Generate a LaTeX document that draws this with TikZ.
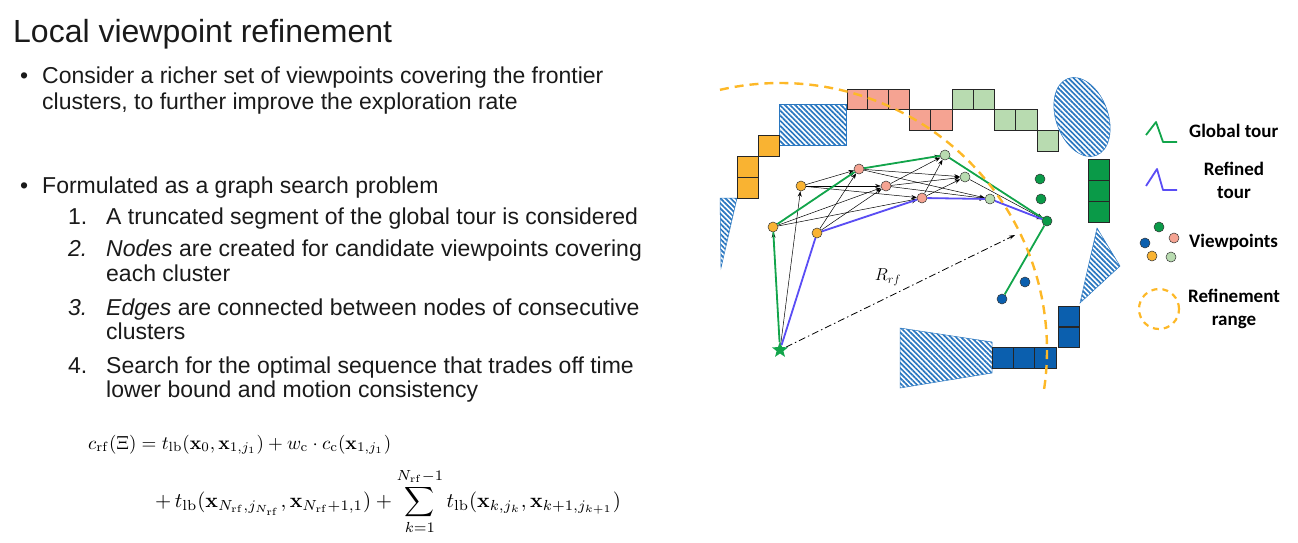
\documentclass[tikz,border=0pt]{standalone}
\usepackage{amsmath}
\usepackage{graphicx}
\usepackage[no-math]{fontspec}
\setmainfont{Liberation Sans}
\newfontfamily\legfont{Carlito}
\usetikzlibrary{shapes.geometric,patterns.meta,arrows.meta,calc}
\definecolor{vpOrange}{HTML}{F9B332}
\definecolor{vpSalmon}{HTML}{F5A392}
\definecolor{vpLgreen}{HTML}{B8DBB0}
\definecolor{vpDgreen}{HTML}{0A9A48}
\definecolor{vpBlue}{HTML}{0B5FAE}
\definecolor{hatchBlue}{HTML}{2A77C0}
\definecolor{tourGreen}{HTML}{12A54B}
\definecolor{tourBlue}{HTML}{5A4DF5}
\definecolor{rangeOrange}{HTML}{FDB827}
\definecolor{txtGray}{HTML}{1A1A1A}
\begin{document}
\begin{tikzpicture}[x=1pt,y=-1pt,
  cell/.style={draw=black!85, line width=0.9pt},
  hatch/.style={draw=hatchBlue, line width=0.5pt, pattern={Lines[angle=-45,distance=3.6pt,line width=1.7pt]}, pattern color=hatchBlue},
  vp/.style={circle, draw=black!80, line width=0.5pt, inner sep=0pt, minimum size=10pt},
  edgearrow/.style={-{Stealth[length=5.5pt,width=4pt]}, line width=0.5pt, black},
  gtour/.style={tourGreen, line width=1.8pt, line join=round},
  rtour/.style={tourBlue, line width=1.8pt, line join=round},
  rangeline/.style={rangeOrange, line width=2.4pt, dash pattern=on 9pt off 6pt},
  bodytext/.style={anchor=base west, inner sep=0pt, font=\fontsize{23}{28}\selectfont, text=txtGray},
  mathtext/.style={anchor=base west, inner sep=0pt, font=\fontsize{10}{12}\selectfont},
  legtext/.style={inner sep=0pt, font=\legfont\bfseries\fontsize{19}{23}\selectfont, align=center}
]
\useasboundingbox (0,0) rectangle (1298,542);

% ---------------- text ----------------
\node[anchor=base west, inner sep=0pt, font=\fontsize{32}{36}\selectfont, text=txtGray] (title) at (13,42) {Local viewpoint refinement};
\node[bodytext] (bul1) at (20,83) {•};
\node[bodytext] (t1a) at (42,83) {Consider a richer set of viewpoints covering the frontier};
\node[bodytext] (t1b) at (42,109) {clusters, to further improve the exploration rate};
\node[bodytext] (bul2) at (20,193) {•};
\node[bodytext] (t2) at (42,193) {Formulated as a graph search problem};
\node[bodytext] (n1) at (68,224) {1.};
\node[bodytext] (i1) at (106,224) {A truncated segment of the global tour is considered};
\node[bodytext] (n2) at (68,256) {\itshape 2.};
\node[bodytext] (i2a) at (106,256) {\textit{Nodes} are created for candidate viewpoints covering};
\node[bodytext] (i2b) at (106,281) {each cluster};
\node[bodytext] (n3) at (68,315) {\itshape 3.};
\node[bodytext] (i3a) at (106,315) {\textit{Edges} are connected between nodes of consecutive};
\node[bodytext] (i3b) at (106,339) {clusters};
\node[bodytext] (n4) at (68,373) {4.};
\node[bodytext] (i4a) at (106,373) {Search for the optimal sequence that trades off time};
\node[bodytext] (i4b) at (106,397) {lower bound and motion consistency};

\node[mathtext] (eq1) at (88,449) {\scalebox{1.9}{$c_{\mathrm{rf}}(\Xi) = t_{\mathrm{lb}}(\mathbf{x}_0, \mathbf{x}_{1,j_1}) + w_{\mathrm{c}}\cdot c_{\mathrm{c}}(\mathbf{x}_{1,j_1})$}};
\node[mathtext] (eq2) at (155,507) {\scalebox{2.08}{$\displaystyle + \, t_{\mathrm{lb}}(\mathbf{x}_{N_{\mathrm{rf}},j_{N_{\mathrm{rf}}}}, \mathbf{x}_{N_{\mathrm{rf}}+1,1}) + \sum_{k=1}^{N_{\mathrm{rf}}-1} t_{\mathrm{lb}}(\mathbf{x}_{k,j_k}, \mathbf{x}_{k+1,j_{k+1}})$}};

% ---------------- obstacles ----------------
\draw[hatch] (779,104) rectangle (846,145);
\draw[hatch] (720,198) -- (737,198) -- (721,268) -- cycle;
\draw[hatch, rotate around={20:(1082,117)}] (1082,117) ellipse [x radius=26pt, y radius=41pt];
\draw[hatch] (1097,228) -- (1120,266) -- (1080,303) -- cycle;
\draw[hatch] (900,328) -- (992,342) -- (992,373) -- (900,388) -- cycle;

% ---------------- frontier cells ----------------
\draw[cell, fill=vpOrange] (758,135) rectangle (779,156);
\draw[cell, fill=vpOrange] (737,156) rectangle (758,177);
\draw[cell, fill=vpOrange] (737,177) rectangle (758,198);
\foreach \x in {847,867.67,888.33} \draw[cell, fill=vpSalmon] (\x,89) rectangle ++(20.67,20);
\foreach \x in {909,930.5} \draw[cell, fill=vpSalmon] (\x,109) rectangle ++(21.5,21);
\foreach \x in {952,973} \draw[cell, fill=vpLgreen] (\x,89) rectangle ++(21,20);
\foreach \x in {994,1015.5} \draw[cell, fill=vpLgreen] (\x,109) rectangle ++(21.5,21);
\draw[cell, fill=vpLgreen] (1037,130) rectangle (1058,151);
\foreach \y in {159,180,201} \draw[cell, fill=vpDgreen] (1088,\y) rectangle ++(21,21);
\foreach \y in {306,327} \draw[cell, fill=vpBlue] (1058,\y) rectangle ++(21,20.5);
\foreach \x in {992,1013.33,1034.67} \draw[cell, fill=vpBlue] (\x,347) rectangle ++(21.33,21);

% ---------------- viewpoints ----------------
\node[star, star points=5, star point ratio=2.4, fill=tourGreen, inner sep=0pt, minimum size=17pt] (st) at (780,350) {};
\node[vp, fill=vpOrange] (o1) at (773,227) {};
\node[vp, fill=vpOrange] (o2) at (801,186) {};
\node[vp, fill=vpOrange] (o3) at (817,233) {};
\node[vp, fill=vpSalmon] (s1) at (859,169) {};
\node[vp, fill=vpSalmon] (s2) at (886,186) {};
\node[vp, fill=vpSalmon] (s3) at (922,198) {};
\node[vp, fill=vpLgreen] (g1) at (945,155) {};
\node[vp, fill=vpLgreen] (g2) at (965,177) {};
\node[vp, fill=vpLgreen] (g3) at (990,199) {};
\node[vp, fill=vpDgreen] (d1) at (1040,179) {};
\node[vp, fill=vpDgreen] (d2) at (1041,199) {};
\node[vp, fill=vpDgreen] (d3) at (1047,221) {};
\node[vp, fill=vpBlue] (b1) at (1025,282) {};
\node[vp, fill=vpBlue] (b2) at (1002,299) {};

% ---------------- graph edges ----------------
\draw[edgearrow] (st) -- (o1);
\draw[edgearrow] (st) -- (o2);
\foreach \a in {o1,o2,o3} \foreach \b in {s1,s2,s3} \draw[edgearrow] (\a) -- (\b);
\foreach \a in {s1,s2,s3} \foreach \b in {g1,g2,g3} \draw[edgearrow] (\a) -- (\b);
\foreach \a in {g1,g2,g3} \draw[edgearrow] (\a) -- (d3);

% ---------------- tours ----------------
\draw[gtour] (st) -- (o1) -- (s1) -- (g1) -- (d3) -- (b2);
\draw[rtour] (st) -- (o3) -- (s3) -- (g3) -- (d3);

% ---------------- refinement range ----------------
\coordinate (rtip) at (1015,235);
\draw[line width=0.8pt, dash pattern=on 7pt off 3pt on 1.5pt off 3pt, -{Stealth[length=6pt,width=4pt]}] (st) -- (rtip);
\node[font=\fontsize{18}{20}\selectfont] (rlabel) at (888,277) {$R_{rf}$};
\draw[rangeline] (st.center) ++(103:267pt) arc[start angle=103, end angle=-9.5, radius=267pt];

% ---------------- legend ----------------
\draw[gtour] (1146,135) -- (1156,122) -- (1163,142) -- (1177,142);
\node[legtext, anchor=west] (lg1) at (1189,131) {Global tour};
\draw[rtour] (1146,186) -- (1157,169) -- (1163,190) -- (1177,190);
\node[legtext] (lg2) at (1234,180) {Refined\\tour};
\node[vp, fill=vpDgreen] (lv1) at (1159,227) {};
\node[vp, fill=vpBlue] (lv2) at (1145,243) {};
\node[vp, fill=vpSalmon] (lv3) at (1174,238) {};
\node[vp, fill=vpOrange] (lv4) at (1152,256) {};
\node[vp, fill=vpLgreen] (lv5) at (1171,257) {};
\node[legtext, anchor=west] (lg3) at (1189,242) {Viewpoints};
\node[circle, draw=rangeOrange, line width=2.2pt, dash pattern=on 6pt off 5pt, minimum size=40pt, inner sep=0pt] (lc) at (1159,309) {};
\node[legtext] (lg4) at (1234,309) {Refinement\\range};
\end{tikzpicture}
\end{document}
